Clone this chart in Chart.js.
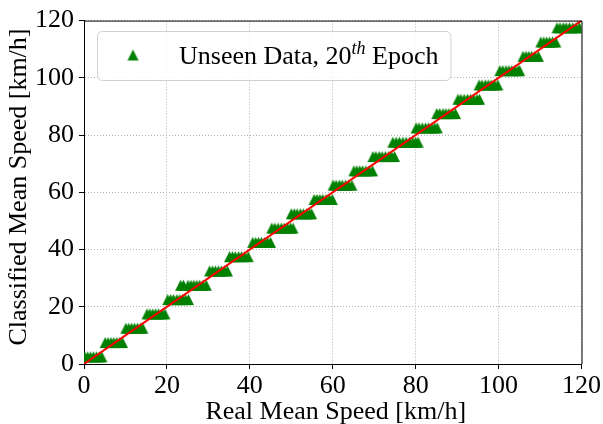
<!DOCTYPE html>
<html lang="en">
<head>
  <meta charset="UTF-8" />
  <title>Classified vs Real Mean Speed</title>
  <script src="https://cdn.jsdelivr.net/npm/chart.js"></script>
  <style>
    body { margin: 0; background: white; }
    .chart-box { width: 603px; height: 424px; }
  </style>
</head>
<body>
  <div class="chart-box">
    <canvas id="speedChart" width="603" height="424"></canvas>
  </div>

  <script>
    // classified speed (bin centre) and real speeds falling in each bin
    const classCenters = [2.5, 7.5, 12.5, 17.5, 22.5, 27.5, 32.5, 37.5, 42.5, 47.5, 52.5, 57.5,
      62.5, 67.5, 72.5, 77.5, 82.5, 87.5, 92.5, 97.5, 102.5, 107.5, 112.5, 117.5];
    const realSpeeds = [
      [0.2, 0.9, 1.6, 2.3, 3.0, 3.7, 4.3],
      [5.1, 5.8, 6.5, 7.2, 7.9, 8.6, 9.3],
      [10.1, 10.8, 11.5, 12.2, 12.9, 13.6, 14.2],
      [15.2, 15.9, 16.6, 17.3, 18.0, 18.8, 19.5],
      [20.2, 20.9, 21.6, 22.4, 23.1, 23.8, 24.5, 25.2],
      [23.3, 24.0, 25.1, 25.8, 26.5, 27.2, 27.9, 28.7, 29.5],
      [30.3, 31.0, 31.7, 32.4, 33.1, 33.9, 34.6],
      [35.1, 35.8, 36.5, 37.3, 38.0, 38.8, 39.6],
      [40.7, 41.4, 42.1, 42.8, 43.5, 44.3, 45.0],
      [45.3, 46.0, 46.8, 47.6, 48.3, 49.1, 49.8, 50.4],
      [50.0, 50.7, 51.4, 52.2, 52.9, 53.7, 54.4, 54.9],
      [55.5, 56.2, 56.9, 57.6, 58.4, 59.2, 59.9],
      [60.1, 60.8, 61.6, 62.3, 63.1, 63.8, 64.6],
      [65.1, 65.8, 66.5, 67.2, 68.0, 68.8, 69.6],
      [69.7, 70.4, 71.2, 71.9, 72.7, 73.5, 74.2, 74.9],
      [74.5, 75.3, 76.1, 76.9, 77.7, 78.5, 79.3, 80.0, 80.6],
      [80.1, 80.8, 81.6, 82.4, 83.1, 83.9, 84.6, 85.2],
      [85.1, 85.8, 86.6, 87.3, 88.0, 88.8, 89.6],
      [90.2, 90.9, 91.7, 92.5, 93.2, 94.0, 94.8, 95.4],
      [95.3, 96.0, 96.8, 97.5, 98.2, 99.0, 99.8],
      [100.3, 101.0, 101.8, 102.5, 103.2, 104.0, 104.7, 105.1],
      [105.9, 106.6, 107.3, 108.0, 108.8, 109.6],
      [110.2, 110.9, 111.6, 112.3, 113.0, 113.8],
      [114.1, 114.8, 115.6, 116.3, 117.1, 117.9, 118.7, 119.5]
    ];
    const idealLine = [0, 120];
    const tickValues = [0, 20, 40, 60, 80, 100, 120];

    const GREEN = '#008000';
    const SERIF = "'Liberation Serif', 'DejaVu Serif', serif";

    // matplotlib-like "^" marker: as tall as it is wide
    function makeTriangle(size) {
      const c = document.createElement('canvas');
      c.width = size + 2;
      c.height = size + 2;
      const g = c.getContext('2d');
      g.fillStyle = GREEN;
      g.beginPath();
      g.moveTo(c.width / 2, 1);
      g.lineTo(c.width - 1, c.height - 1);
      g.lineTo(1, c.height - 1);
      g.closePath();
      g.fill();
      return c;
    }
    const triMarker = makeTriangle(11);

    const scatterPoints = [];
    classCenters.forEach((y, i) => {
      realSpeeds[i].forEach(x => scatterPoints.push({ x: x, y: y }));
    });

    const framePlugin = {
      id: 'frame',
      afterDraw(chart) {
        const ctx = chart.ctx;
        const a = chart.chartArea;
        ctx.save();
        ctx.strokeStyle = 'black';
        ctx.lineWidth = 1;
        ctx.beginPath();
        ctx.moveTo(a.left, a.top + 0.5);
        ctx.lineTo(a.right + 0.5, a.top + 0.5);
        ctx.lineTo(a.right + 0.5, a.bottom);
        ctx.stroke();

        // axis titles
        ctx.fillStyle = 'black';
        ctx.font = '26px ' + SERIF;
        ctx.textAlign = 'center';
        ctx.textBaseline = 'alphabetic';
        ctx.fillText('Real Mean Speed [km/h]', (a.left + a.right) / 2 + 3, 419);
        ctx.save();
        ctx.translate(26, 187);
        ctx.rotate(-Math.PI / 2);
        ctx.fillText('Classified Mean Speed [km/h]', 0, 0);
        ctx.restore();

        // legend
        const bx = 97, by = 31, bh = 49;
        const fs = 26;
        ctx.font = fs + 'px ' + SERIF;
        const part1 = 'Unseen Data, 20';
        const part3 = ' Epoch';
        const w1 = ctx.measureText(part1).width;
        ctx.font = 'italic ' + Math.round(fs * 0.7) + 'px ' + SERIF;
        const w2 = ctx.measureText('th').width;
        ctx.font = fs + 'px ' + SERIF;
        const w3 = ctx.measureText(part3).width;
        const tx = 179;
        const bw = tx + w1 + w2 + w3 + 12 - bx;

        ctx.fillStyle = 'rgba(255,255,255,0.85)';
        ctx.strokeStyle = '#d0d0d0';
        ctx.lineWidth = 1;
        ctx.beginPath();
        ctx.roundRect(bx + 0.5, by + 0.5, bw, bh, 5);
        ctx.fill();
        ctx.stroke();

        ctx.drawImage(triMarker, 133 - triMarker.width / 2, 55 - triMarker.height / 2);

        const base = 64;
        ctx.fillStyle = 'black';
        ctx.textAlign = 'left';
        ctx.fillText(part1, tx, base);
        ctx.font = 'italic ' + Math.round(fs * 0.7) + 'px ' + SERIF;
        ctx.fillText('th', tx + w1, base - 10);
        ctx.font = fs + 'px ' + SERIF;
        ctx.fillText(part3, tx + w1 + w2, base);
        ctx.restore();
      }
    };

    const axisCommon = {
      type: 'linear',
      min: 0,
      max: 120,
      grid: {
        color: '#b0b0b0',
        lineWidth: 1,
        drawTicks: true,
        tickLength: 5,
        tickColor: 'black',
        tickBorderDash: [],
        tickWidth: 1
      },
      border: { display: true, color: 'black', width: 1, dash: [1, 2] },
      afterBuildTicks: scale => {
        scale.ticks = tickValues.map(v => ({ value: v }));
      }
    };

    new Chart(document.getElementById('speedChart'), {
      type: 'scatter',
      data: {
        datasets: [
          {
            type: 'line',
            label: 'Ideal',
            data: idealLine.map(v => ({ x: v, y: v })),
            borderColor: '#ff0000',
            borderWidth: 2,
            pointRadius: 0,
            fill: false,
            order: 0
          },
          {
            label: 'Unseen Data, 20th Epoch',
            data: scatterPoints,
            pointStyle: triMarker,
            pointRadius: 6,
            clip: 0,
            order: 1
          }
        ]
      },
      options: {
        responsive: false,
        animation: false,
        layout: { padding: { left: 0, right: 20, top: 17, bottom: 0 } },
        plugins: {
          legend: { display: false },
          tooltip: { enabled: false }
        },
        scales: {
          x: Object.assign({}, axisCommon, {
            position: 'bottom',
            ticks: {
              color: 'black',
              padding: 2,
              font: { family: SERIF, size: 26 }
            },
            afterFit: scale => { scale.height = 60; }
          }),
          y: Object.assign({}, axisCommon, {
            position: 'left',
            ticks: {
              color: 'black',
              padding: 5,
              font: { family: SERIF, size: 26 }
            },
            afterFit: scale => { scale.width = 84; }
          })
        }
      },
      plugins: [framePlugin]
    });
  </script>
</body>
</html>
